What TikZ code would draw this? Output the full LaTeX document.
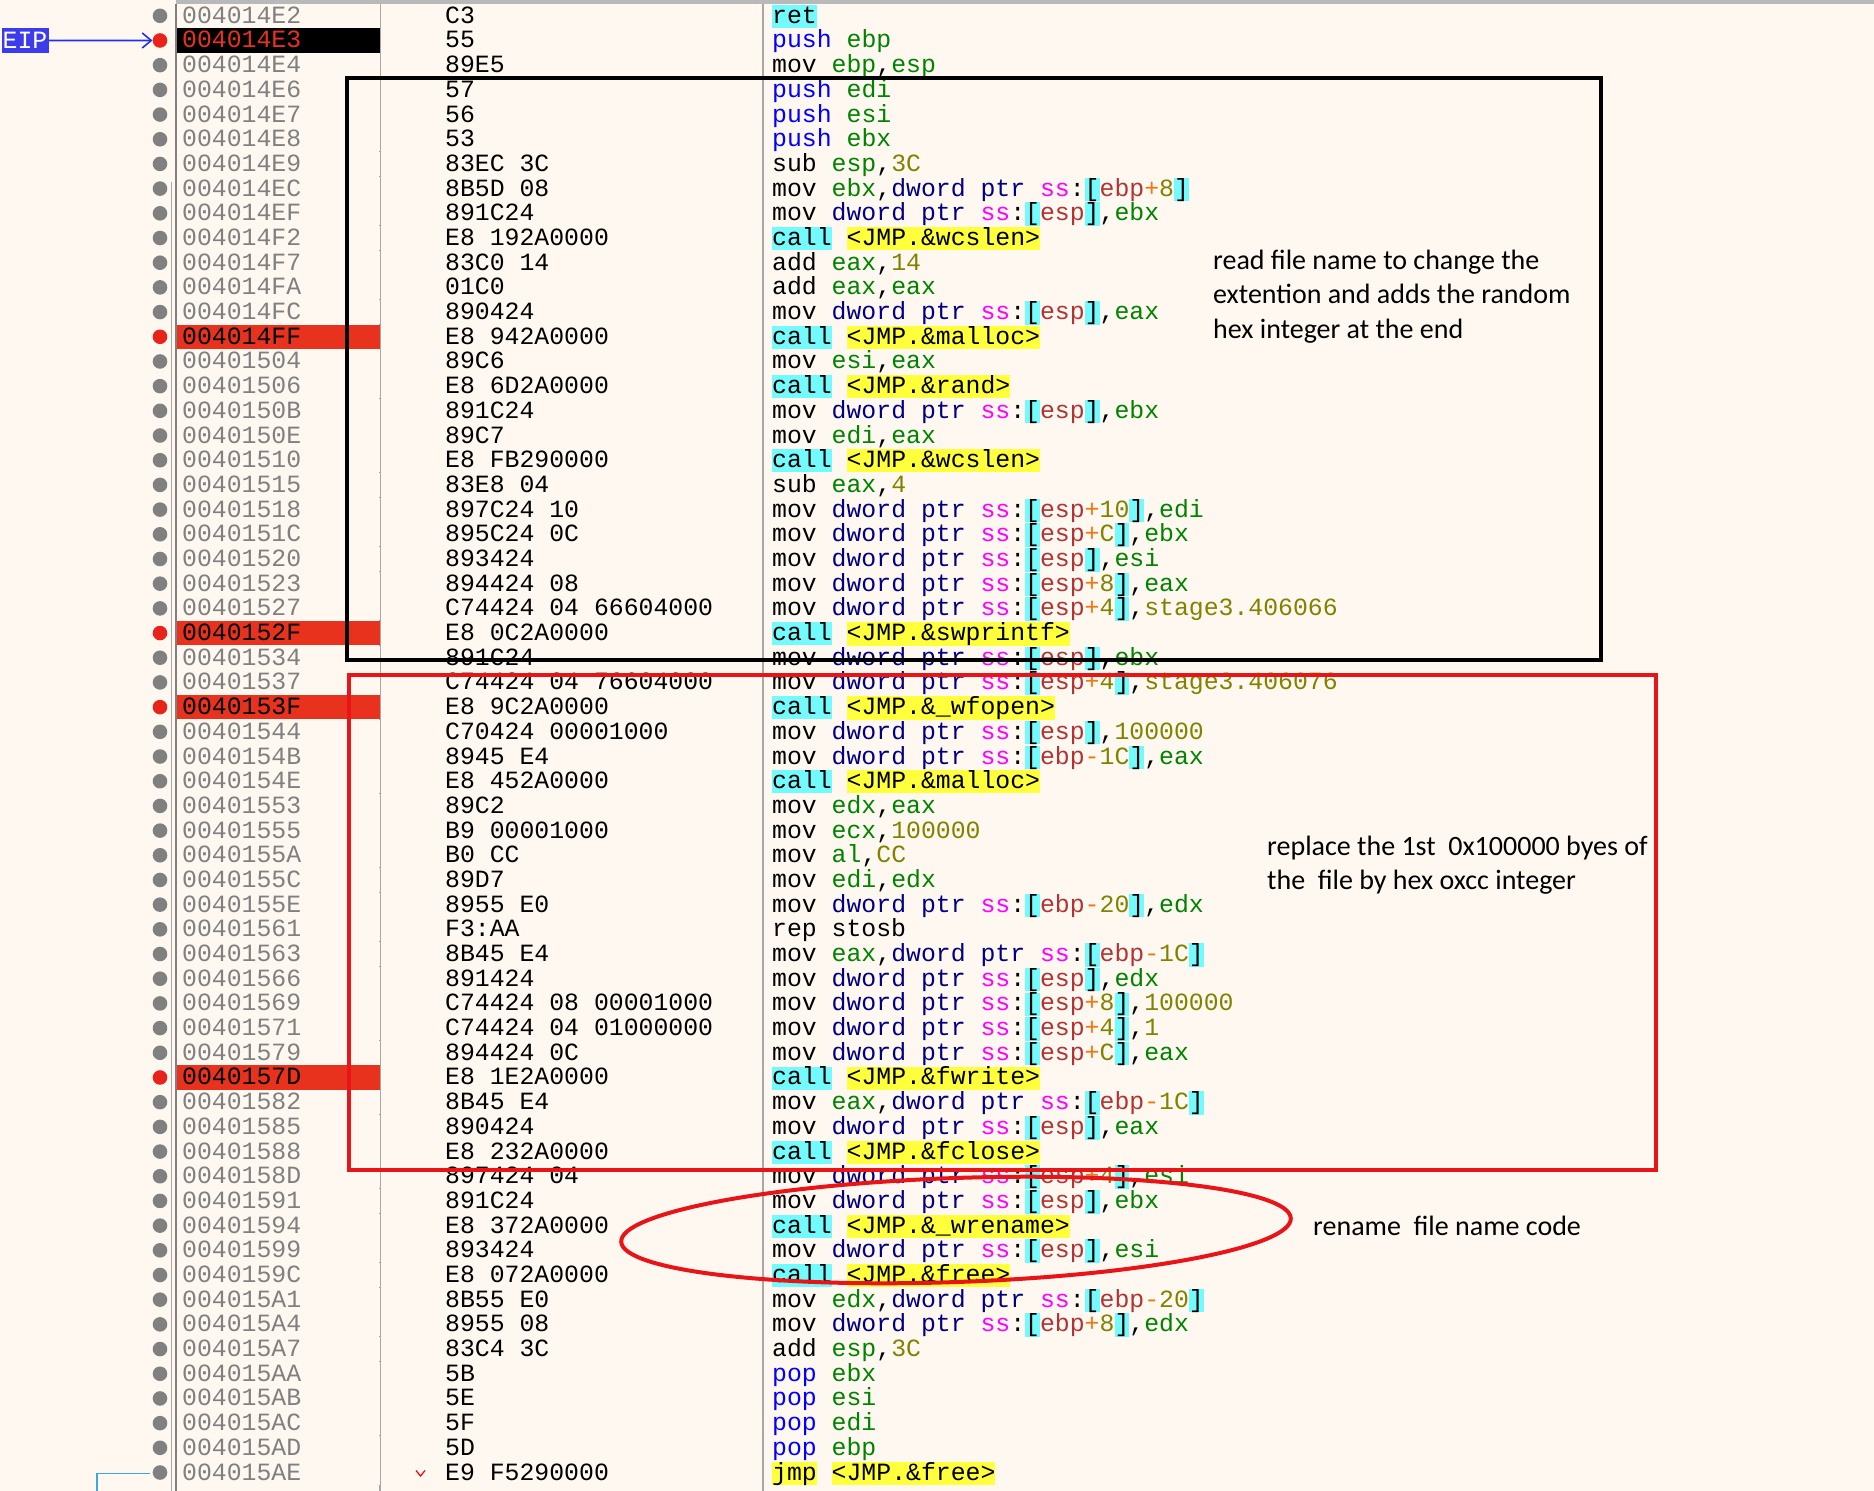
\documentclass[tikz,border=0pt]{standalone}
\usepackage{fontspec}
\setmonofont{Liberation Mono}
\newfontfamily\notefont{Carlito}
\usetikzlibrary{arrows.meta}
\definecolor{bgc}{HTML}{FFF8F0}
\definecolor{addrgray}{HTML}{808080}
\definecolor{sepgray}{HTML}{A8A8A8}
\definecolor{pushc}{HTML}{0000FF}
\definecolor{reg}{HTML}{008300}
\definecolor{navy}{HTML}{000080}
\definecolor{seg}{HTML}{FF00FF}
\definecolor{cyb}{HTML}{72FAFC}
\definecolor{yel}{HTML}{FFFF3C}
\definecolor{base}{HTML}{B03434}
\definecolor{opc}{HTML}{F27711}
\definecolor{val}{HTML}{828200}
\definecolor{bpred}{HTML}{E8321E}
\definecolor{dotred}{HTML}{E8231A}
\definecolor{eipblue}{HTML}{3C3CEC}
\definecolor{arrblue}{HTML}{2030F0}
\definecolor{markred}{HTML}{E81418}
\definecolor{jumpblue}{HTML}{3AA8E8}
\newcommand{\codefont}{\ttfamily\fontsize{24.8pt}{24.69pt}\selectfont}
\newcommand{\notesize}{\notefont\fontsize{28pt}{34.5pt}\selectfont}
\newcommand{\sst}{\rule[-4.6pt]{0pt}{23pt}}
\newcommand{\cbg}[2]{{\setlength{\fboxsep}{0pt}\colorbox{#1}{\sst#2}}}
\newcommand{\Rg}[1]{\textcolor{reg}{#1}}
\newcommand{\Vl}[1]{\textcolor{val}{#1}}
\newcommand{\Pu}[1]{\textcolor{pushc}{#1}}
\newcommand{\Bs}[1]{\textcolor{base}{#1}}
\newcommand{\Op}[1]{\textcolor{opc}{#1}}
\newcommand{\Mem}[1]{\textcolor{navy}{dword ptr} \textcolor{seg}{ss}:\cbg{cyb}{[}#1\cbg{cyb}{]}}
\newcommand{\Call}[1]{\cbg{cyb}{call} \cbg{yel}{\textless JMP.\&#1\textgreater}}
% #1 index, #2 dot colour, #3 address background, #4 address text colour, #5 address, #6 bytes, #7 instruction
\newcommand{\CodeRow}[7]{%
  \pgfmathsetmacro{\ry}{15.8+(#1-1)*24.69}%
  \fill[#3] (177,\ry-12.1) rectangle (379.5,\ry+12.1);%
  \node[dotn, fill=#2] (d#1) at (160,\ry) {};%
  \node[codetxt, text=#4] (a#1) at (182,\ry+7.5) {#5};%
  \node[codetxt] (b#1) at (445,\ry+7.5) {#6};%
  \node[codetxt] (i#1) at (772,\ry+7.5) {#7};%
}
\newcommand{\RN}[4]{\CodeRow{#1}{addrgray}{bgc}{addrgray}{#2}{#3}{#4}}
\newcommand{\RB}[4]{\CodeRow{#1}{dotred}{bpred}{black}{#2}{#3}{#4}}
\begin{document}
\begin{tikzpicture}[x=1pt,y=-1pt,
  dotn/.style={circle, inner sep=0pt, minimum size=14.6pt, draw=none},
  codetxt/.style={inner sep=0pt, anchor=base west, font=\codefont, text=black},
  note/.style={inner sep=0pt, anchor=base west, font=\notesize, text=black},
  boxline/.style={line width=4pt}]
\useasboundingbox (0,0) rectangle (1874,1491);
\fill[bgc] (0,0) rectangle (1874,1491);
% header bar and column separators
\fill[gray!55] (176,0) rectangle (1874,4);
\draw[addrgray, line width=1.5pt] (176,4) -- (176,1491);
\draw[sepgray, line width=1pt] (171,182) -- (171,1491);
\draw[sepgray, line width=1.5pt] (380,4) -- (380,1491);
\draw[sepgray, line width=1.5pt] (763,4) -- (763,1491);
% rows
\RN{1}{004014E2}{C3}{\cbg{cyb}{ret}}
\CodeRow{2}{dotred}{black}{bpred}{004014E3}{55}{\Pu{push} \Rg{ebp}}
\RN{3}{004014E4}{89E5}{mov \Rg{ebp},\Rg{esp}}
\RN{4}{004014E6}{57}{\Pu{push} \Rg{edi}}
\RN{5}{004014E7}{56}{\Pu{push} \Rg{esi}}
\RN{6}{004014E8}{53}{\Pu{push} \Rg{ebx}}
\RN{7}{004014E9}{83EC 3C}{sub \Rg{esp},\Vl{3C}}
\RN{8}{004014EC}{8B5D 08}{mov \Rg{ebx},\Mem{\Bs{ebp}\Op{+}\Vl{8}}}
\RN{9}{004014EF}{891C24}{mov \Mem{\Bs{esp}},\Rg{ebx}}
\RN{10}{004014F2}{E8 192A0000}{\Call{wcslen}}
\RN{11}{004014F7}{83C0 14}{add \Rg{eax},\Vl{14}}
\RN{12}{004014FA}{01C0}{add \Rg{eax},\Rg{eax}}
\RN{13}{004014FC}{890424}{mov \Mem{\Bs{esp}},\Rg{eax}}
\RB{14}{004014FF}{E8 942A0000}{\Call{malloc}}
\RN{15}{00401504}{89C6}{mov \Rg{esi},\Rg{eax}}
\RN{16}{00401506}{E8 6D2A0000}{\Call{rand}}
\RN{17}{0040150B}{891C24}{mov \Mem{\Bs{esp}},\Rg{ebx}}
\RN{18}{0040150E}{89C7}{mov \Rg{edi},\Rg{eax}}
\RN{19}{00401510}{E8 FB290000}{\Call{wcslen}}
\RN{20}{00401515}{83E8 04}{sub \Rg{eax},\Vl{4}}
\RN{21}{00401518}{897C24 10}{mov \Mem{\Bs{esp}\Op{+}\Vl{10}},\Rg{edi}}
\RN{22}{0040151C}{895C24 0C}{mov \Mem{\Bs{esp}\Op{+}\Vl{C}},\Rg{ebx}}
\RN{23}{00401520}{893424}{mov \Mem{\Bs{esp}},\Rg{esi}}
\RN{24}{00401523}{894424 08}{mov \Mem{\Bs{esp}\Op{+}\Vl{8}},\Rg{eax}}
\RN{25}{00401527}{C74424 04 66604000}{mov \Mem{\Bs{esp}\Op{+}\Vl{4}},\Vl{stage3.406066}}
\RB{26}{0040152F}{E8 0C2A0000}{\Call{swprintf}}
\RN{27}{00401534}{891C24}{mov \Mem{\Bs{esp}},\Rg{ebx}}
\RN{28}{00401537}{C74424 04 76604000}{mov \Mem{\Bs{esp}\Op{+}\Vl{4}},\Vl{stage3.406076}}
\RB{29}{0040153F}{E8 9C2A0000}{\Call{\_wfopen}}
\RN{30}{00401544}{C70424 00001000}{mov \Mem{\Bs{esp}},\Vl{100000}}
\RN{31}{0040154B}{8945 E4}{mov \Mem{\Bs{ebp}\Op{-}\Vl{1C}},\Rg{eax}}
\RN{32}{0040154E}{E8 452A0000}{\Call{malloc}}
\RN{33}{00401553}{89C2}{mov \Rg{edx},\Rg{eax}}
\RN{34}{00401555}{B9 00001000}{mov \Rg{ecx},\Vl{100000}}
\RN{35}{0040155A}{B0 CC}{mov \Rg{al},\Vl{CC}}
\RN{36}{0040155C}{89D7}{mov \Rg{edi},\Rg{edx}}
\RN{37}{0040155E}{8955 E0}{mov \Mem{\Bs{ebp}\Op{-}\Vl{20}},\Rg{edx}}
\RN{38}{00401561}{F3:AA}{rep stosb}
\RN{39}{00401563}{8B45 E4}{mov \Rg{eax},\Mem{\Bs{ebp}\Op{-}\Vl{1C}}}
\RN{40}{00401566}{891424}{mov \Mem{\Bs{esp}},\Rg{edx}}
\RN{41}{00401569}{C74424 08 00001000}{mov \Mem{\Bs{esp}\Op{+}\Vl{8}},\Vl{100000}}
\RN{42}{00401571}{C74424 04 01000000}{mov \Mem{\Bs{esp}\Op{+}\Vl{4}},\Vl{1}}
\RN{43}{00401579}{894424 0C}{mov \Mem{\Bs{esp}\Op{+}\Vl{C}},\Rg{eax}}
\RB{44}{0040157D}{E8 1E2A0000}{\Call{fwrite}}
\RN{45}{00401582}{8B45 E4}{mov \Rg{eax},\Mem{\Bs{ebp}\Op{-}\Vl{1C}}}
\RN{46}{00401585}{890424}{mov \Mem{\Bs{esp}},\Rg{eax}}
\RN{47}{00401588}{E8 232A0000}{\Call{fclose}}
\RN{48}{0040158D}{897424 04}{mov \Mem{\Bs{esp}\Op{+}\Vl{4}},\Rg{esi}}
\RN{49}{00401591}{891C24}{mov \Mem{\Bs{esp}},\Rg{ebx}}
\RN{50}{00401594}{E8 372A0000}{\Call{\_wrename}}
\RN{51}{00401599}{893424}{mov \Mem{\Bs{esp}},\Rg{esi}}
\RN{52}{0040159C}{E8 072A0000}{\Call{free}}
\RN{53}{004015A1}{8B55 E0}{mov \Rg{edx},\Mem{\Bs{ebp}\Op{-}\Vl{20}}}
\RN{54}{004015A4}{8955 08}{mov \Mem{\Bs{ebp}\Op{+}\Vl{8}},\Rg{edx}}
\RN{55}{004015A7}{83C4 3C}{add \Rg{esp},\Vl{3C}}
\RN{56}{004015AA}{5B}{\Pu{pop} \Rg{ebx}}
\RN{57}{004015AB}{5E}{\Pu{pop} \Rg{esi}}
\RN{58}{004015AC}{5F}{\Pu{pop} \Rg{edi}}
\RN{59}{004015AD}{5D}{\Pu{pop} \Rg{ebp}}
\RN{60}{004015AE}{E9 F5290000}{\cbg{yel}{jmp} \cbg{yel}{\textless JMP.\&free\textgreater}}
% EIP label and arrow
\node[fill=eipblue, text=white, font=\codefont, inner sep=0pt, minimum width=47pt, minimum height=24.4pt] (eip) at (25,40.5) {EIP};
\draw[arrblue, line width=1.6pt, -{Straight Barb[length=9pt,width=15pt,line width=1.6pt]}] (eip.east) -- (d2.west);
% jump line at bottom left and down mark
\coordinate (jtop) at (97,1473.5);
\coordinate (jend) at (150,1473.5);
\coordinate (jbot) at (97,1491);
\draw[jumpblue, line width=1.8pt] (jend) -- (jtop) -- (jbot);
\coordinate (vm) at (420.5,1476);
\draw[markred, line width=1.3pt] ([shift={(-4.5,-5.5)}]vm) -- (vm) -- ([shift={(4.5,-5.5)}]vm);
% annotation boxes
\draw[black, boxline] (347,78) rectangle (1601,660);
\draw[markred, boxline] (349,675) rectangle (1656,1170);
\draw[markred, boxline] (956,1230) ellipse [x radius=335pt, y radius=52pt, rotate=2];
% notes
\node[note] (n1a) at (1213,269) {read file name to change the};
\node[note] (n1b) at (1213,303.5) {extention and adds the random};
\node[note] (n1c) at (1213,338) {hex integer at the end};
\node[note] (n2a) at (1267,855) {replace the 1st\ \ 0x100000 byes of};
\node[note] (n2b) at (1267,889) {the\ \ file by hex oxcc integer};
\node[note] (n3) at (1313,1235) {rename\ \ file name code};
\end{tikzpicture}
\end{document}
